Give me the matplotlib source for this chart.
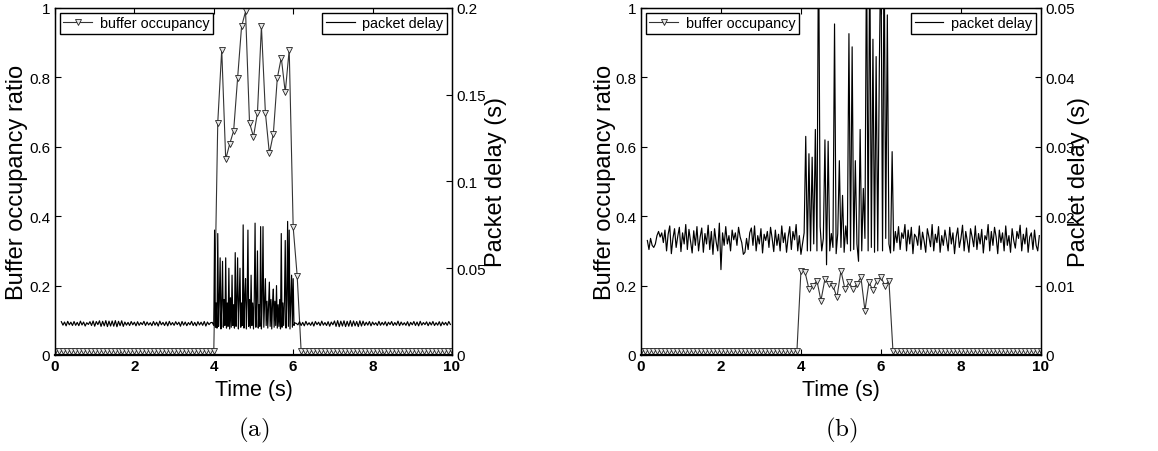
import numpy as np
import matplotlib
matplotlib.use("Agg")
import matplotlib.pyplot as plt
from matplotlib.ticker import FuncFormatter

plt.rcParams['font.family'] = ['Liberation Sans', 'DejaVu Sans']
plt.rcParams['mathtext.fontset'] = 'cm'

# buffer occupancy ratio, one sample every 0.1 s (0 .. 10 s)
buf_idle = 0.012
buf_a_burst = [0.67, 0.88, 0.564, 0.608, 0.646, 0.798, 0.947, 0.99, 0.669, 0.629,
               0.698, 0.947, 0.698, 0.581, 0.637, 0.798, 0.857, 0.757, 0.88, 0.368,
               0.229]                      # 4.1 .. 6.1 s
buf_b_burst = [0.243, 0.24, 0.19, 0.20, 0.214, 0.157, 0.219, 0.205, 0.20, 0.166,
               0.243, 0.19, 0.209, 0.19, 0.205, 0.224, 0.128, 0.209, 0.187, 0.214,
               0.224, 0.20, 0.214]         # 4.0 .. 6.2 s

# packet delay, units of 0.1 ms
# (a) before burst: 0.16 .. 3.96 s, every 0.04 s
delay_a_pre = [192, 172, 190, 168, 194, 174, 189, 170,
               193, 171, 188, 169, 195, 173, 190, 167,
               186, 176, 192, 170, 196, 166, 193, 175,
               197, 165, 194, 168, 198, 164, 195, 167,
               196, 166, 198, 163, 194, 169, 197, 165,
               190, 172, 188, 170, 193, 174, 189, 168,
               192, 171, 187, 175, 194, 170, 190, 173,
               186, 169, 193, 172, 189, 167, 195, 174,
               188, 170, 191, 168, 194, 173, 187, 171,
               192, 175, 189, 166, 193, 172, 190, 169,
               187, 174, 194, 170, 188, 168, 192, 173,
               189, 171, 193, 167, 190, 175, 186, 188]
# (a) burst: 4.00 .. 6.04 s, every 0.02 s
delay_a_burst = [170, 720, 160, 300, 155, 700, 165, 310, 560, 150,
                 290, 540, 160, 320, 170, 560, 155, 300, 165, 500,
                 150, 330, 160, 460, 170, 290, 155, 590, 165, 320,
                 560, 150, 310, 500, 160, 300, 170, 750, 155, 330,
                 440, 150, 310, 720, 165, 320, 155, 460, 170, 300,
                 150, 330, 760, 160, 310, 600, 155, 290, 165, 740,
                 150, 320, 740, 160, 300, 440, 170, 310, 155, 290,
                 420, 165, 320, 150, 300, 380, 160, 310, 170, 400,
                 155, 290, 165, 320, 150, 700, 160, 300, 170, 310,
                 660, 155, 320, 770, 165, 720, 150, 300, 460, 160,
                 440, 170, 185]
# (a) after burst: 6.08 .. 9.96 s, every 0.04 s
delay_a_post = [182, 174, 192, 170, 188, 168, 194, 173,
                186, 171, 190, 167, 193, 175, 189, 169,
                195, 172, 187, 170, 192, 166, 190, 174,
                196, 165, 198, 163, 195, 167, 197, 164,
                194, 166, 198, 165, 196, 168, 193, 164,
                197, 167, 195, 170, 189, 172, 193, 168,
                190, 174, 186, 170, 194, 171, 188, 173,
                192, 168, 189, 175, 193, 170, 187, 172,
                195, 169, 190, 173, 186, 171, 192, 167,
                188, 174, 193, 170, 190, 168, 194, 172,
                187, 175, 191, 169, 189, 173, 193, 170,
                186, 172, 192, 168, 190, 174, 188, 171,
                193, 176]
# (b) whole run: 0.16 .. 9.96 s, every 0.04 s
delay_b = [165, 152, 168, 158, 155, 160, 172, 178, 170, 176,
           162, 180, 150, 174, 186, 146, 168, 182, 155, 171,
           184, 149, 176, 160, 188, 152, 181, 164, 147, 179,
           158, 185, 150, 170, 183, 148, 175, 160, 187, 152,
           178, 145, 182, 163, 150, 190, 123, 176, 158, 185,
           160, 172, 150, 180, 166, 176, 158, 184, 170, 162,
           145, 148, 168, 152, 176, 183, 158, 186, 150, 172,
           160, 182, 147, 174, 165, 178, 155, 184, 168, 149,
           180, 158, 174, 150, 186, 162, 176, 148, 170, 185,
           152, 178, 166, 188, 150, 172, 145, 160, 176, 315,
           150, 290, 150, 285, 160, 325, 150, 620, 185, 150,
           168, 310, 130, 308, 150, 175, 155, 477, 146, 175,
           280, 155, 230, 148, 186, 160, 463, 150, 444, 152,
           280, 160, 135, 325, 150, 240, 168, 600, 150, 600,
           155, 455, 148, 430, 150, 415, 600, 150, 600, 168,
           490, 160, 147, 293, 150, 178, 162, 185, 152, 176,
           168, 188, 150, 180, 160, 184, 146, 174, 170, 158,
           186, 152, 177, 164, 148, 182, 170, 156, 188, 150,
           174, 162, 185, 148, 172, 158, 180, 166, 150, 184,
           160, 176, 146, 170, 183, 155, 168, 187, 150, 178,
           164, 148, 182, 170, 156, 186, 152, 175, 160, 181,
           147, 172, 166, 188, 150, 178, 158, 184, 170, 146,
           180, 162, 176, 150, 186, 158, 172, 148, 182, 165,
           154, 178, 168, 187, 150, 174, 160, 183, 148, 170,
           176, 152, 180, 158, 150, 172]

buf_time = np.linspace(0, 10, 101)
buf_a = [buf_idle] * 41 + buf_a_burst + [buf_idle] * 39
buf_b = [buf_idle] * 40 + buf_b_burst + [buf_idle] * 38


def seg(t0, dt, vals):
    return t0 + dt * np.arange(len(vals)), np.array(vals) * 1e-4


ta1, da1 = seg(0.16, 0.04, delay_a_pre)
ta2, da2 = seg(4.0, 0.02, delay_a_burst)
ta3, da3 = seg(6.08, 0.04, delay_a_post)
ta = np.concatenate([ta1, ta2, ta3])
da = np.concatenate([da1, da2, da3])
tb, db = seg(0.16, 0.04, delay_b)

fmt = FuncFormatter(lambda v, p: '%g' % round(v, 4))


def panel(rect, buf, dt, dv, dmax, dstep, tag, rlab_x, llab_x):
    ax = fig.add_axes(rect)
    ax.plot(buf_time, buf, color='#333333', lw=0.8, marker='v', ms=4,
            mfc='#e6e6e6', mec='#222222', mew=0.6, label='buffer occupancy')
    ax.set_xlim(0, 10)
    ax.set_ylim(0, 1)
    ax.set_xticks(np.arange(0, 11, 2))
    ax.set_yticks(np.arange(0, 1.01, 0.2))
    ax.yaxis.set_major_formatter(fmt)
    ax.tick_params(direction='in', length=4, top=True, right=False, labelsize=11)
    ax.tick_params(axis='x', pad=3)
    for lab in ax.get_xticklabels():
        lab.set_fontweight('bold')
    for s in ax.spines.values():
        s.set_linewidth(1.0)
    ax.spines['bottom'].set_linewidth(1.6)
    ax.set_xlabel('Time (s)', fontsize=15.5)
    ax.xaxis.set_label_coords(0.5, -0.098)
    ax.xaxis.label.set_va('center')
    ax.set_ylabel('Buffer occupancy ratio', fontsize=17)
    ax.yaxis.set_label_coords(llab_x, 0.5)
    ax.yaxis.label.set_va('center')
    leg = ax.legend(loc='upper left', fontsize=10.4, handlelength=2.0, handletextpad=0.55,
                    fancybox=False, framealpha=1, edgecolor='black',
                    borderpad=0.25, borderaxespad=0.33)
    leg.get_frame().set_linewidth(1.0)

    ax2 = ax.twinx()
    ax2.plot(dt, dv, color='black', lw=0.85, label='packet delay')
    ax2.set_ylim(0, dmax)
    ax2.set_yticks(np.arange(0, dmax + 1e-9, dstep))
    ax2.yaxis.set_major_formatter(fmt)
    ax2.tick_params(direction='in', length=4, labelsize=11)
    ax2.set_ylabel('Packet delay (s)', fontsize=17)
    ax2.yaxis.set_label_coords(rlab_x, 0.5)
    ax2.yaxis.label.set_va('center')
    leg2 = ax2.legend(loc='upper right', fontsize=10.4, handlelength=2.0, handletextpad=0.55,
                      fancybox=False, framealpha=1, edgecolor='black',
                      borderpad=0.25, borderaxespad=0.33)
    leg2.get_frame().set_linewidth(1.0)
    leg2.set_zorder(10)

    fig.text(rect[0] + rect[2] / 2, 1 - 430 / 452, r'$\mathrm{(%s)}$' % tag, fontsize=18,
             ha='center', va='center')


fig = plt.figure(figsize=(11.58, 4.52), dpi=100)
panel([0.0475, 0.2124, 0.3428, 0.7677], buf_a, ta, da, 0.2, 0.05, 'a', 1.11, -0.096)
panel([0.5535, 0.2124, 0.3454, 0.7677], buf_b, tb, db, 0.05, 0.01, 'b', 1.095, -0.09)
fig.savefig('out.png', dpi=100)
